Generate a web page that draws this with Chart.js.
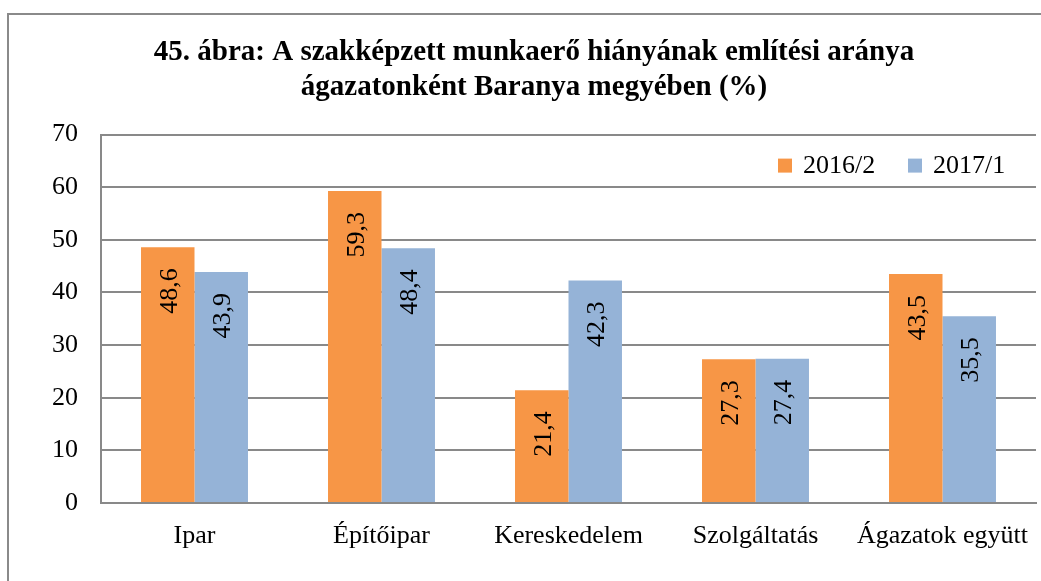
<!DOCTYPE html>
<html lang="hu">
<head>
  <meta charset="UTF-8">
  <title>Szakképzett munkaerő hiánya ágazatonként</title>
  <script src="https://cdn.jsdelivr.net/npm/chart.js@4.4.1/dist/chart.umd.min.js"></script>
  <style>
    body { margin: 0; padding: 0; background: #fff; overflow: hidden; }
    .frame { position: absolute; left: 7px; top: 13px; width: 1100px; height: 640px; border: 2px solid #8a8a8a; }
    .wrap { position: absolute; left: 0; top: 0; width: 1041px; height: 581px; }
  </style>
</head>
<body>
  <div class="frame"></div>
  <div class="wrap"><canvas id="chart" width="1041" height="581"></canvas></div>

  <script>
    const categories = ['Ipar', 'Építőipar', 'Kereskedelem', 'Szolgáltatás', 'Ágazatok együtt'];
    const values2016 = [48.6, 59.3, 21.4, 27.3, 43.5];
    const values2017 = [43.9, 48.4, 42.3, 27.4, 35.5];
    const seriesNames = ['2016/2', '2017/1'];
    const yTicks = [0, 10, 20, 30, 40, 50, 60, 70];

    const serif = '"Liberation Serif", "Times New Roman", serif';
    const gridGray = '#898989';

    // value labels, rotated, sitting just inside the top of each bar
    const barLabels = {
      id: 'barLabels',
      afterDatasetsDraw(chart) {
        const ctx = chart.ctx;
        ctx.save();
        ctx.font = '26px ' + serif;
        ctx.fillStyle = '#000';
        chart.data.datasets.forEach((ds, i) => {
          chart.getDatasetMeta(i).data.forEach((bar, j) => {
            const txt = ds.data[j].toFixed(1).replace('.', ',');
            ctx.save();
            ctx.translate(bar.x + 2, bar.y + 21);
            ctx.rotate(-Math.PI / 2);
            ctx.textAlign = 'right';
            ctx.textBaseline = 'middle';
            ctx.fillText(txt, 0, 0);
            ctx.restore();
          });
        });
        ctx.restore();
      }
    };

    // legend drawn inside the plot, top right
    const innerLegend = {
      id: 'innerLegend',
      afterDraw(chart) {
        const ctx = chart.ctx;
        const area = chart.chartArea;
        const y = area.top + 31;
        let x = area.right - 258;
        ctx.save();
        ctx.font = '26px ' + serif;
        ctx.textBaseline = 'middle';
        ctx.textAlign = 'left';
        chart.data.datasets.forEach(ds => {
          ctx.fillStyle = ds.backgroundColor;
          ctx.fillRect(x, y - 7, 14, 14);
          ctx.fillStyle = '#000';
          ctx.fillText(ds.label, x + 25, y + 1);
          x += 130;
        });
        ctx.restore();
      }
    };

    new Chart(document.getElementById('chart'), {
      type: 'bar',
      data: {
        labels: categories,
        datasets: [{
          label: seriesNames[0],
          data: values2016,
          backgroundColor: '#F79646'
        }, {
          label: seriesNames[1],
          data: values2017,
          backgroundColor: '#95B3D7'
        }]
      },
      options: {
        responsive: false,
        animation: false,
        layout: { padding: { left: 32, right: 5, top: 0, bottom: 0 } },
        datasets: { bar: { barPercentage: 1, categoryPercentage: 0.572 } },
        scales: {
          x: {
            grid: { display: false, drawTicks: false },
            border: { display: true, color: gridGray, width: 2 },
            ticks: { color: '#000', font: { family: serif, size: 26 }, padding: 18, maxRotation: 0 },
            afterFit: s => {
              s.height = 78;
              s.paddingLeft = 0;
              s.paddingRight = 0;
            }
          },
          y: {
            min: 0,
            max: 70,
            afterBuildTicks: s => { s.ticks = yTicks.map(v => ({ value: v })); },
            grid: { color: gridGray, lineWidth: 2, drawTicks: false },
            border: { display: true, color: gridGray, width: 2 },
            ticks: { color: '#000', font: { family: serif, size: 26 }, padding: 23 },
            afterFit: s => { s.width = 69; }
          }
        },
        plugins: {
          legend: { display: false },
          tooltip: { enabled: false },
          title: {
            display: true,
            text: ['45. ábra: A szakképzett munkaerő hiányának említési aránya', 'ágazatonként Baranya megyében (%)'],
            color: '#000',
            font: { family: serif, size: 29, weight: 'bold', lineHeight: 1.2 },
            padding: { top: 35, bottom: 30 }
          }
        }
      },
      plugins: [barLabels, innerLegend]
    });
  </script>
</body>
</html>
